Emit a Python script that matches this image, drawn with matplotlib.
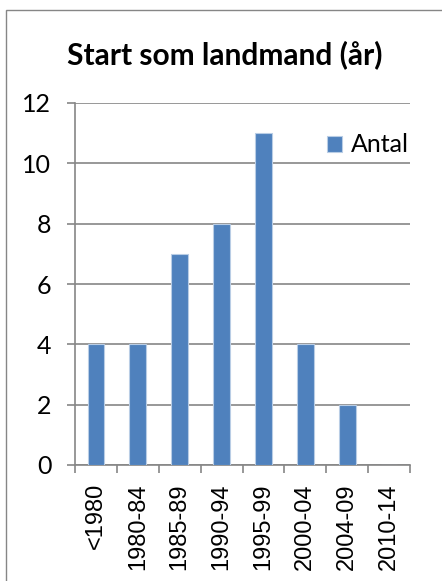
import matplotlib
matplotlib.use("Agg")
import matplotlib.pyplot as plt
from matplotlib.patches import Rectangle

# data
kategorier = ["<1980", "1980-84", "1985-89", "1990-94", "1995-99", "2000-04", "2004-09", "2010-14"]
antal = [4, 4, 7, 8, 11, 4, 2, 0]
y_ticks = [0, 2, 4, 6, 8, 10, 12]

W, H = 442, 581
plt.rcParams['font.family'] = ['Lato', 'DejaVu Sans']

fig = plt.figure(figsize=(W / 100, H / 100), dpi=100)
ax = fig.add_axes([75 / W, 1 - 465 / H, (410 - 75) / W, (465 - 103) / H])

grid_col = "#868686"
pos = list(range(len(kategorier)))
ax.bar(pos, antal, width=0.4, color="#4F81BD", edgecolor="#B9CDE5", linewidth=0.8,
       label="Antal", zorder=3)

ax.set_ylim(0, 12)
ax.set_xlim(-0.5, len(kategorier) - 0.5)
ax.set_yticks(y_ticks)
ax.set_yticklabels([str(v) for v in y_ticks], fontsize=18)
ax.yaxis.grid(True, color=grid_col, linewidth=1.2, zorder=0)
ax.tick_params(axis='y', length=6, width=1.2, color=grid_col, pad=11)

ax.set_xticks(pos)
ax.set_xticklabels(kategorier, rotation=90, fontsize=17, family=['Liberation Sans'])
ax.set_xticks([p - 0.5 for p in pos] + [len(pos) - 0.5], minor=True)
ax.tick_params(axis='x', which='major', length=0, pad=13)
ax.tick_params(axis='x', which='minor', length=6, width=1.2, color=grid_col)

for s in ['top', 'right']:
    ax.spines[s].set_visible(False)
for s in ['left', 'bottom']:
    ax.spines[s].set_color(grid_col)
    ax.spines[s].set_linewidth(1.2)

fig.text(225 / W, 1 - 55 / H, "Start som landmand (år)", ha='center', va='center',
         fontsize=21.5, fontweight='bold')

fig.legend(loc='center left', bbox_to_anchor=(327 / W, 1 - 145 / H), frameon=False,
           fontsize=18, handlelength=0.6, handleheight=0.6, handletextpad=0.35,
           borderpad=0, borderaxespad=0)

# outer chart frame
fig.patches.append(Rectangle((6 / W, -0.01), 1.0, 1 - 10 / H + 0.01, transform=fig.transFigure,
                             fill=False, edgecolor=grid_col, linewidth=1.0))

fig.savefig("out.png", dpi=100)
